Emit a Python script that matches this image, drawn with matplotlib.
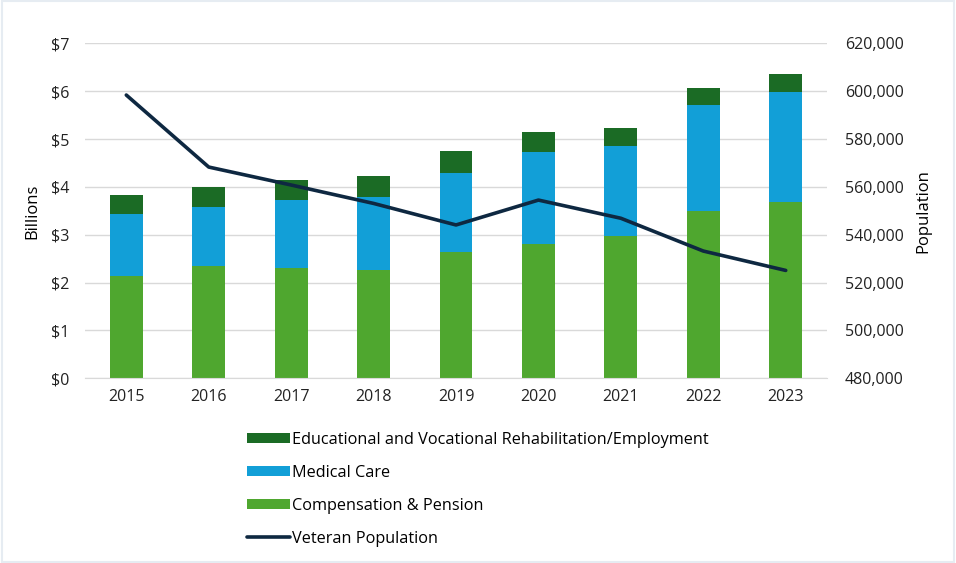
import matplotlib.pyplot as plt
from matplotlib.ticker import FuncFormatter
import numpy as np

plt.rcParams['font.family'] = ['Open Sans', 'DejaVu Sans']

years = ['2015', '2016', '2017', '2018', '2019', '2020', '2021', '2022', '2023']
# billions of dollars
comp_pension = [2.14, 2.34, 2.31, 2.26, 2.65, 2.81, 2.98, 3.49, 3.69]
medical = [1.29, 1.25, 1.42, 1.53, 1.65, 1.91, 1.87, 2.23, 2.30]
education = [0.41, 0.41, 0.41, 0.44, 0.46, 0.43, 0.39, 0.35, 0.37]
veterans = [598400, 568300, 560800, 553100, 544100, 554500, 546900, 533200, 525100]

c_edu = '#1b6b25'
c_med = '#129fd7'
c_comp = '#4fa72f'
c_line = '#0e2841'

fig = plt.figure(figsize=(9.56, 5.63), dpi=100)
ax = fig.add_axes([0.089, 0.328, 0.776, 0.595])
ax2 = ax.twinx()

x = np.arange(len(years))
w = 0.4
bot2 = np.array(comp_pension) + np.array(medical)
b1 = ax.bar(x, comp_pension, w, color=c_comp, zorder=2)
b2 = ax.bar(x, medical, w, bottom=comp_pension, color=c_med, zorder=2)
b3 = ax.bar(x, education, w, bottom=bot2, color=c_edu, zorder=2)
ln, = ax2.plot(x, veterans, color=c_line, lw=2.6, solid_capstyle='round')

ax.set_xlim(-0.5, len(years) - 0.5)
ax.set_ylim(0, 7)
ax.set_yticks(range(8))
ax.yaxis.set_major_formatter(FuncFormatter(lambda v, p: '$%d' % v))
ax2.set_ylim(480000, 620000)
ax2.set_yticks(range(480000, 620001, 20000))
ax2.yaxis.set_major_formatter(FuncFormatter(lambda v, p: '{:,.0f}'.format(v)))
ax.set_xticks(x)
ax.set_xticklabels(years)

ax.grid(axis='y', color='#d9d9d9', lw=1, zorder=0)
ax.set_axisbelow(True)
for a in (ax, ax2):
    for s in a.spines.values():
        s.set_visible(False)
    a.tick_params(length=0, labelsize=11.5, colors='#222222')
ax.spines['bottom'].set_visible(True)
ax.spines['bottom'].set_color('#d9d9d9')
ax.tick_params(axis='y', pad=11)
ax.tick_params(axis='x', pad=8)
ax2.tick_params(axis='y', pad=13)

ax.set_ylabel('Billions', fontsize=12, labelpad=8)
ax2.set_ylabel('Population', fontsize=12, labelpad=8)

fig.legend([b3, b2, b1, ln],
           ['Educational and Vocational Rehabilitation/Employment', 'Medical Care',
            'Compensation & Pension', 'Veteran Population'],
           loc='upper left', bbox_to_anchor=(0.252, 0.245), frameon=False,
           fontsize=11.7, handlelength=2.6, handleheight=0.55, handletextpad=0.15,
           labelspacing=1.05, borderaxespad=0)

fig.patches.append(plt.Rectangle((0.002, 0.002), 0.996, 0.996, transform=fig.transFigure,
                                 fill=False, edgecolor='#e6ecf2', lw=1.5))

fig.savefig('out.png', dpi=100)
